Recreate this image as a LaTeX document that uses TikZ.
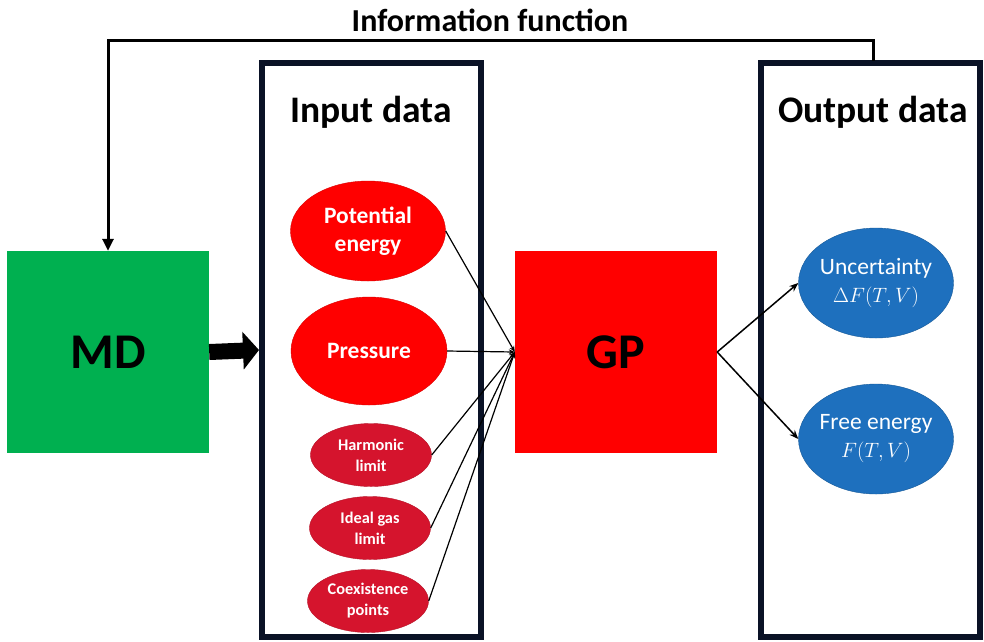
\documentclass[tikz,border=0pt]{standalone}
\usepackage{fontspec}
\setmainfont{Carlito}
\usetikzlibrary{arrows.meta,shapes.geometric}

\definecolor{mdgreen}{RGB}{0,176,80}
\definecolor{gpred}{RGB}{255,0,0}
\definecolor{limred}{RGB}{213,20,45}
\definecolor{outblue}{RGB}{30,112,190}
\definecolor{boxline}{RGB}{10,18,38}

\begin{document}
\begin{tikzpicture}[x=1pt, y=-1pt]
    \tikzstyle{every node} = [inner sep=0pt, align=center]
    \tikzstyle{databox} = [rectangle, draw=boxline, line width=6pt, minimum width=219pt, minimum height=574pt]
    \tikzstyle{bigbox} = [rectangle, minimum width=202pt, minimum height=202pt, font=\fontsize{50}{50}\selectfont\bfseries]
    \tikzstyle{bigin} = [ellipse, fill=gpred, draw=gpred!85!black, text=white, inner xsep=-14pt, font=\fontsize{23.5}{28}\selectfont\bfseries]
    \tikzstyle{limit} = [ellipse, fill=limred, draw=limred!85!black, text=white, inner xsep=-14pt, minimum width=121pt, minimum height=63pt, font=\fontsize{16.3}{21}\selectfont\bfseries]
    \tikzstyle{result} = [ellipse, fill=outblue, draw=outblue!80!black, text=white, inner xsep=-14pt, minimum width=155pt, minimum height=110pt, font=\fontsize{23.5}{28}\selectfont]
    \tikzstyle{title} = [font=\fontsize{37.5}{38}\selectfont\bfseries]
    \tikzstyle{feed} = [line width=1.2pt, -{Stealth[length=6pt, width=5pt]}]

    \useasboundingbox (0,0) rectangle (984,641);

    % boxes
    \node (in) at (371.5, 350) [databox] {};
    \node (out) at (870.5, 350) [databox] {};
    \node (intitle) at (371, 112) [title] {Input data};
    \node (outtitle) at (873, 112) [title] {Output data};

    \node (md) at (108, 352) [bigbox, fill=mdgreen] {MD};
    \node (gp) at (616, 352) [bigbox, fill=gpred] {GP};

    % inputs
    \node (pe) at (368, 231) [bigin, minimum width=155pt, minimum height=100pt] {Potential\\energy};
    \node (pr) at (369, 351) [bigin, minimum width=156pt, minimum height=108pt] {Pressure};
    \node (hl) at (371, 455) [limit] {Harmonic\\limit};
    \node (ig) at (370, 528) [limit] {Ideal gas\\limit};
    \node (cp) at (368, 601) [limit] {Coexistence\\points};

    % outputs
    \node (unc) at (876, 283) [result] {Uncertainty\\{\fontsize{21.5}{26}\selectfont$\Delta F(T,V)$}};
    \node (fe) at (876, 439) [result] {Free energy\\{\fontsize{21.5}{26}\selectfont$F(T,V)$}};

    % information function
    \node (info) at (490, 20) [font=\fontsize{32}{32}\selectfont\bfseries] {Information function};
    \coordinate (fb) at (873, 61);
    \coordinate (fbtop) at (873, 40);
    \draw [line width=3pt, -{Triangle[length=12pt, width=11pt]}] (fb) -- (fbtop) -| (md.north);

    \draw [line width=16pt, -{Triangle[length=16pt, width=37pt]}] (md.east) -- (in.west);

    \draw [feed] (pe.east) -- (gp.west);
    \draw [feed] (pr.east) -- (gp.west);
    \draw [feed] (hl.east) -- (gp.west);
    \draw [feed] (ig.east) -- (gp.west);
    \draw [feed] (cp.east) -- (gp.west);

    \draw [line width=1.5pt, -{Stealth[length=9pt, width=7pt]}] (gp.east) -- (unc.west);
    \draw [line width=1.5pt, -{Stealth[length=9pt, width=7pt]}] (gp.east) -- (fe.west);
\end{tikzpicture}
\end{document}
